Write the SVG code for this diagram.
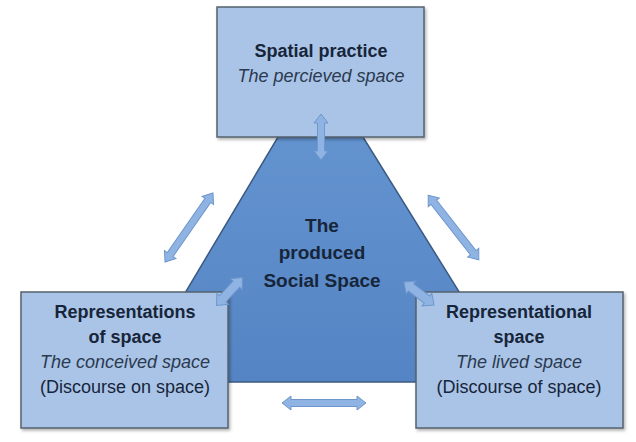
<svg xmlns="http://www.w3.org/2000/svg" width="636" height="442" viewBox="0 0 636 442">
<defs>
<linearGradient id="trap" x1="0" y1="0" x2="0" y2="1">
<stop offset="0" stop-color="#6393cf"/>
<stop offset="1" stop-color="#5584c4"/>
</linearGradient>
<filter id="sh" x="-10%" y="-10%" width="125%" height="125%">
<feDropShadow dx="1.5" dy="2" stdDeviation="1.5" flood-color="#000" flood-opacity="0.3"/>
</filter>
<path id="dbl" d="M-30,0"/>
</defs>
<style>
.box{fill:#a9c4e7;stroke:#56616c;stroke-width:1.5;filter:url(#sh)}
.arr{fill:#8fb4e3;stroke:#6e97cb;stroke-width:1}
text{font-family:"Liberation Sans",Arial,sans-serif;font-size:18px;fill:#17253a;text-anchor:middle}
.b{font-weight:bold}
.i{font-style:italic;fill:#2b3a4f}
.c{font-size:19px}
</style>
<rect width="636" height="442" fill="#ffffff"/>
<g id="center">
<polygon points="278,137 363,137 515,382 132,382" fill="url(#trap)" stroke="#3b5a82" stroke-width="1.5"/>
<text class="b c" x="322" y="232">The</text>
<text class="b c" x="322" y="259">produced</text>
<text class="b c" x="322" y="287">Social Space</text>
</g>
<g id="spatial-practice">
<rect class="box" x="217" y="7" width="207" height="130"/>
<text class="b" x="321" y="57">Spatial practice</text>
<text class="i" x="321" y="82">The percieved space</text>
</g>
<g id="representations-of-space">
<rect class="box" x="21" y="292" width="207" height="136"/>
<text class="b" x="125" y="318">Representations</text>
<text class="b" x="125" y="343">of space</text>
<text class="i" x="125" y="368">The conceived space</text>
<text x="125" y="393">(Discourse on space)</text>
</g>
<g id="representational-space">
<rect class="box" x="416" y="292" width="207" height="136"/>
<text class="b" x="519" y="318">Representational</text>
<text class="b" x="519" y="343">space</text>
<text class="i" x="519" y="368">The lived space</text>
<text x="519" y="393">(Discourse of space)</text>
</g>
<g id="connectors">
<path class="arr" transform="translate(321,137) rotate(90)" d="M-23,0 L-14,-7 L-14,-3.5 L14,-3.5 L14,-7 L23,0 L14,7 L14,3.5 L-14,3.5 L-14,7 Z"/>
<path class="arr" transform="translate(189,227.5) rotate(-55.2)" d="M-42,0 L-33,-7 L-33,-3.5 L33,-3.5 L33,-7 L42,0 L33,7 L33,3.5 L-33,3.5 L-33,7 Z"/>
<path class="arr" transform="translate(453.5,227.5) rotate(51.9)" d="M-41,0 L-32,-7 L-32,-3.5 L32,-3.5 L32,-7 L41,0 L32,7 L32,3.5 L-32,3.5 L-32,7 Z"/>
<path class="arr" transform="translate(324,403) rotate(0)" d="M-42,0 L-33,-7 L-33,-3.5 L33,-3.5 L33,-7 L42,0 L33,7 L33,3.5 L-33,3.5 L-33,7 Z"/>
<path class="arr" transform="translate(229.5,291.5) rotate(-47)" d="M-19,0 L-10,-8 L-10,-4.5 L10,-4.5 L10,-8 L19,0 L10,8 L10,4.5 L-10,4.5 L-10,8 Z"/>
<path class="arr" transform="translate(419,293.5) rotate(37.5)" d="M-19,0 L-10,-8 L-10,-4.5 L10,-4.5 L10,-8 L19,0 L10,8 L10,4.5 L-10,4.5 L-10,8 Z"/>
</g>
</svg>
